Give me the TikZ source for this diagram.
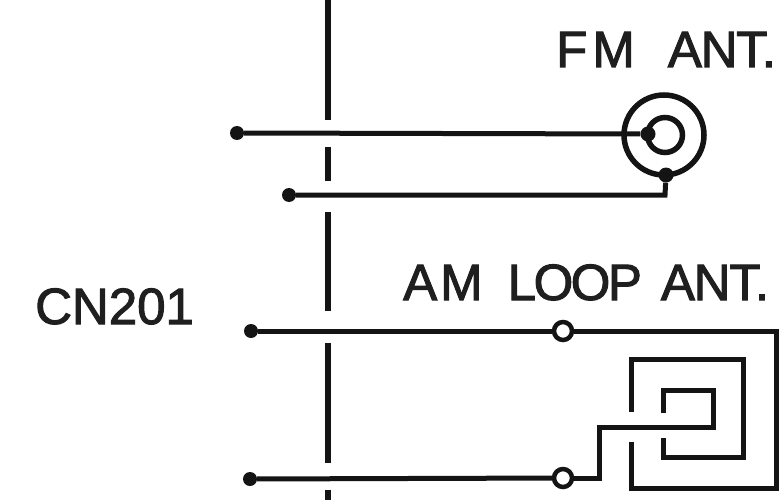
\documentclass[tikz,border=0pt]{standalone}
\usepackage{fontspec}
\setmainfont{Liberation Sans}[FakeBold=2]
\newcommand{\tg}{\kern-2.5pt}
\newcommand{\ta}{\kern-1.2pt}
\begin{document}
\begin{tikzpicture}[x=1pt,y=-1pt,line join=miter,
  wire/.style={line width=5pt,black!92},
  bar/.style={line width=6.5pt,black!92},
  dotend/.style={circle,fill=black!92,inner sep=0pt,minimum size=14pt},
  openterm/.style={circle,draw=black!92,fill=white,line width=4.5pt,inner sep=0pt,minimum size=18pt},
  ring/.style={circle,draw=black!92,line width=5.5pt,inner sep=0pt},
  lab/.style={inner sep=0pt,anchor=base west,font=\fontsize{51}{51}\selectfont,text=black!88}]
\useasboundingbox (0,0) rectangle (781,500);
% divider
\coordinate (b0) at (328,-3); \coordinate (b1) at (328,120);
\coordinate (b2) at (328,147); \coordinate (b3) at (328,181);
\coordinate (b4) at (328,212); \coordinate (b5) at (328,311);
\coordinate (b6) at (328,343); \coordinate (b7) at (328,463);
\coordinate (b8) at (328,490); \coordinate (b9) at (328,503);
\foreach \a/\b in {b0/b1,b2/b3,b4/b5,b6/b7,b8/b9} \draw[bar] (\a) -- (\b);
% FM antenna
\node[ring,minimum size=80pt] (outer) at (664,135) {};
\node[ring,minimum size=35pt] (inner) at (665,135) {};
\node[dotend,minimum size=15pt] (core) at (648,134) {};
\node[dotend,minimum size=15pt] (shield) at (666,175) {};
\node[dotend] (d1) at (237,133) {};
\node[dotend] (d2) at (289,195) {};
\coordinate (c2) at (665,195);
\draw[wire] (d1) -- (core);
\draw[wire] (d2) -- (c2) -- (shield);
% AM loop
\node[dotend] (d3) at (251,331) {};
\node[dotend] (d4) at (250,479) {};
\node[openterm] (t1) at (563,331) {};
\node[openterm] (t2) at (563,478) {};
\coordinate (r1) at (776,331); \coordinate (r2) at (776,488); \coordinate (r3) at (631,488); \coordinate (r4) at (631,442);
\coordinate (s1) at (631,412); \coordinate (s2) at (631,359); \coordinate (s3) at (743,359); \coordinate (s4) at (743,457); \coordinate (s5) at (663,457); \coordinate (s6) at (663,438);
\coordinate (i1) at (663,413); \coordinate (i2) at (663,390); \coordinate (i3) at (713,390); \coordinate (i4) at (713,427); \coordinate (i5) at (599,427); \coordinate (i6) at (599,478);
\draw[wire] (d3) -- (t1);
\draw[wire] (d4) -- (t2);
\draw[wire] (t1) -- (r1) -- (r2) -- (r3) -- (r4);
\draw[wire] (s1) -- (s2) -- (s3) -- (s4) -- (s5) -- (s6);
\draw[wire] (i1) -- (i2) -- (i3) -- (i4) -- (i5) -- (i6) -- (t2);
% labels
\node[lab] (fm) at (556,67) {F\kern5pt M\hspace{33pt}A\ta N\ta T.};
\node[lab] (am) at (403,300) {A\kern3pt M\hspace{25pt}L\tg O\tg O\tg P\hspace{19pt}A\ta N\ta T.};
\node[lab] (cn) at (35,324) {CN201};
\end{tikzpicture}
\end{document}
